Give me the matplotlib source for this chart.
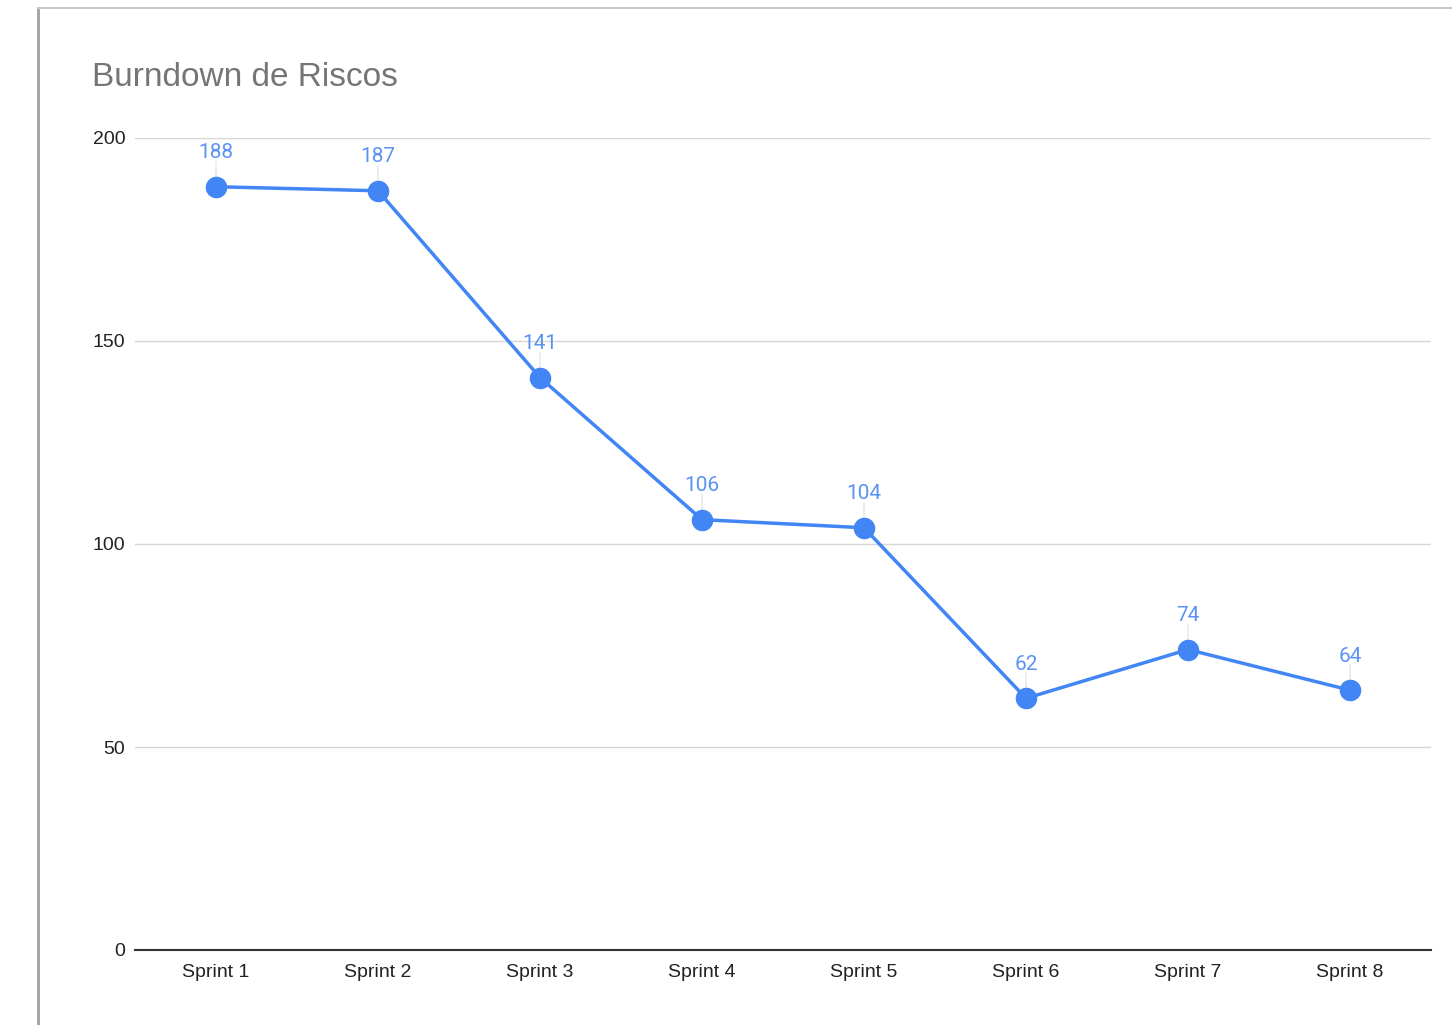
import matplotlib
matplotlib.use("Agg")
import matplotlib.pyplot as plt
from matplotlib.lines import Line2D

sprints = ["Sprint 1", "Sprint 2", "Sprint 3", "Sprint 4",
           "Sprint 5", "Sprint 6", "Sprint 7", "Sprint 8"]
riscos = [188, 187, 141, 106, 104, 62, 74, 64]
y_ticks = [0, 50, 100, 150, 200]

BLUE = "#4285F4"

fig = plt.figure(figsize=(14.52, 10.25), dpi=100)
fig.patch.set_facecolor("white")

# moldura da planilha
fig.add_artist(Line2D([38 / 1452, 38 / 1452], [0, 1 - 8 / 1025],
                      transform=fig.transFigure, color="#a0a0a0", lw=2))
fig.add_artist(Line2D([38 / 1452, 1], [1 - 8 / 1025, 1 - 8 / 1025],
                      transform=fig.transFigure, color="#c8c8c8", lw=1.5))

ax = fig.add_axes([135 / 1452, 75 / 1025, 1296 / 1452, 812 / 1025])
x = list(range(len(sprints)))

ax.set_xlim(-0.5, len(sprints) - 0.5)
ax.set_ylim(0, 200)
ax.set_yticks(y_ticks)
ax.set_xticks(x)
ax.set_xticklabels(sprints)
ax.grid(axis="y", color="#d6d6d6", lw=1)
ax.set_axisbelow(True)
for s in ["top", "right", "left"]:
    ax.spines[s].set_visible(False)
ax.spines["bottom"].set_color("#333333")
ax.spines["bottom"].set_linewidth(1.5)
ax.tick_params(length=0, labelsize=14, labelcolor="#222222")
ax.tick_params(axis="y", pad=7)
ax.tick_params(axis="x", pad=10)
for lbl in ax.get_xticklabels() + ax.get_yticklabels():
    lbl.set_family("Liberation Sans")

ax.plot(x, riscos, color=BLUE, lw=2.5, marker="o", markersize=14.5,
        clip_on=False, zorder=3)

for xi, v in zip(x, riscos):
    ax.annotate("", xy=(xi, v), xytext=(0, 18), textcoords="offset points",
                arrowprops=dict(arrowstyle="-", color="#e6e6e6", lw=1,
                                shrinkA=0, shrinkB=0), zorder=2)
    ax.annotate(str(v), xy=(xi, v), xytext=(0, 24.5), textcoords="offset points",
                ha="center", va="center", fontsize=15, color="#5b93f5",
                family="Roboto", zorder=4)

fig.text(92 / 1452, 1 - 78 / 1025, "Burndown de Riscos", fontsize=24,
         color="#757575", family="Liberation Sans", va="center", ha="left")

fig.savefig("out.png", dpi=100)
